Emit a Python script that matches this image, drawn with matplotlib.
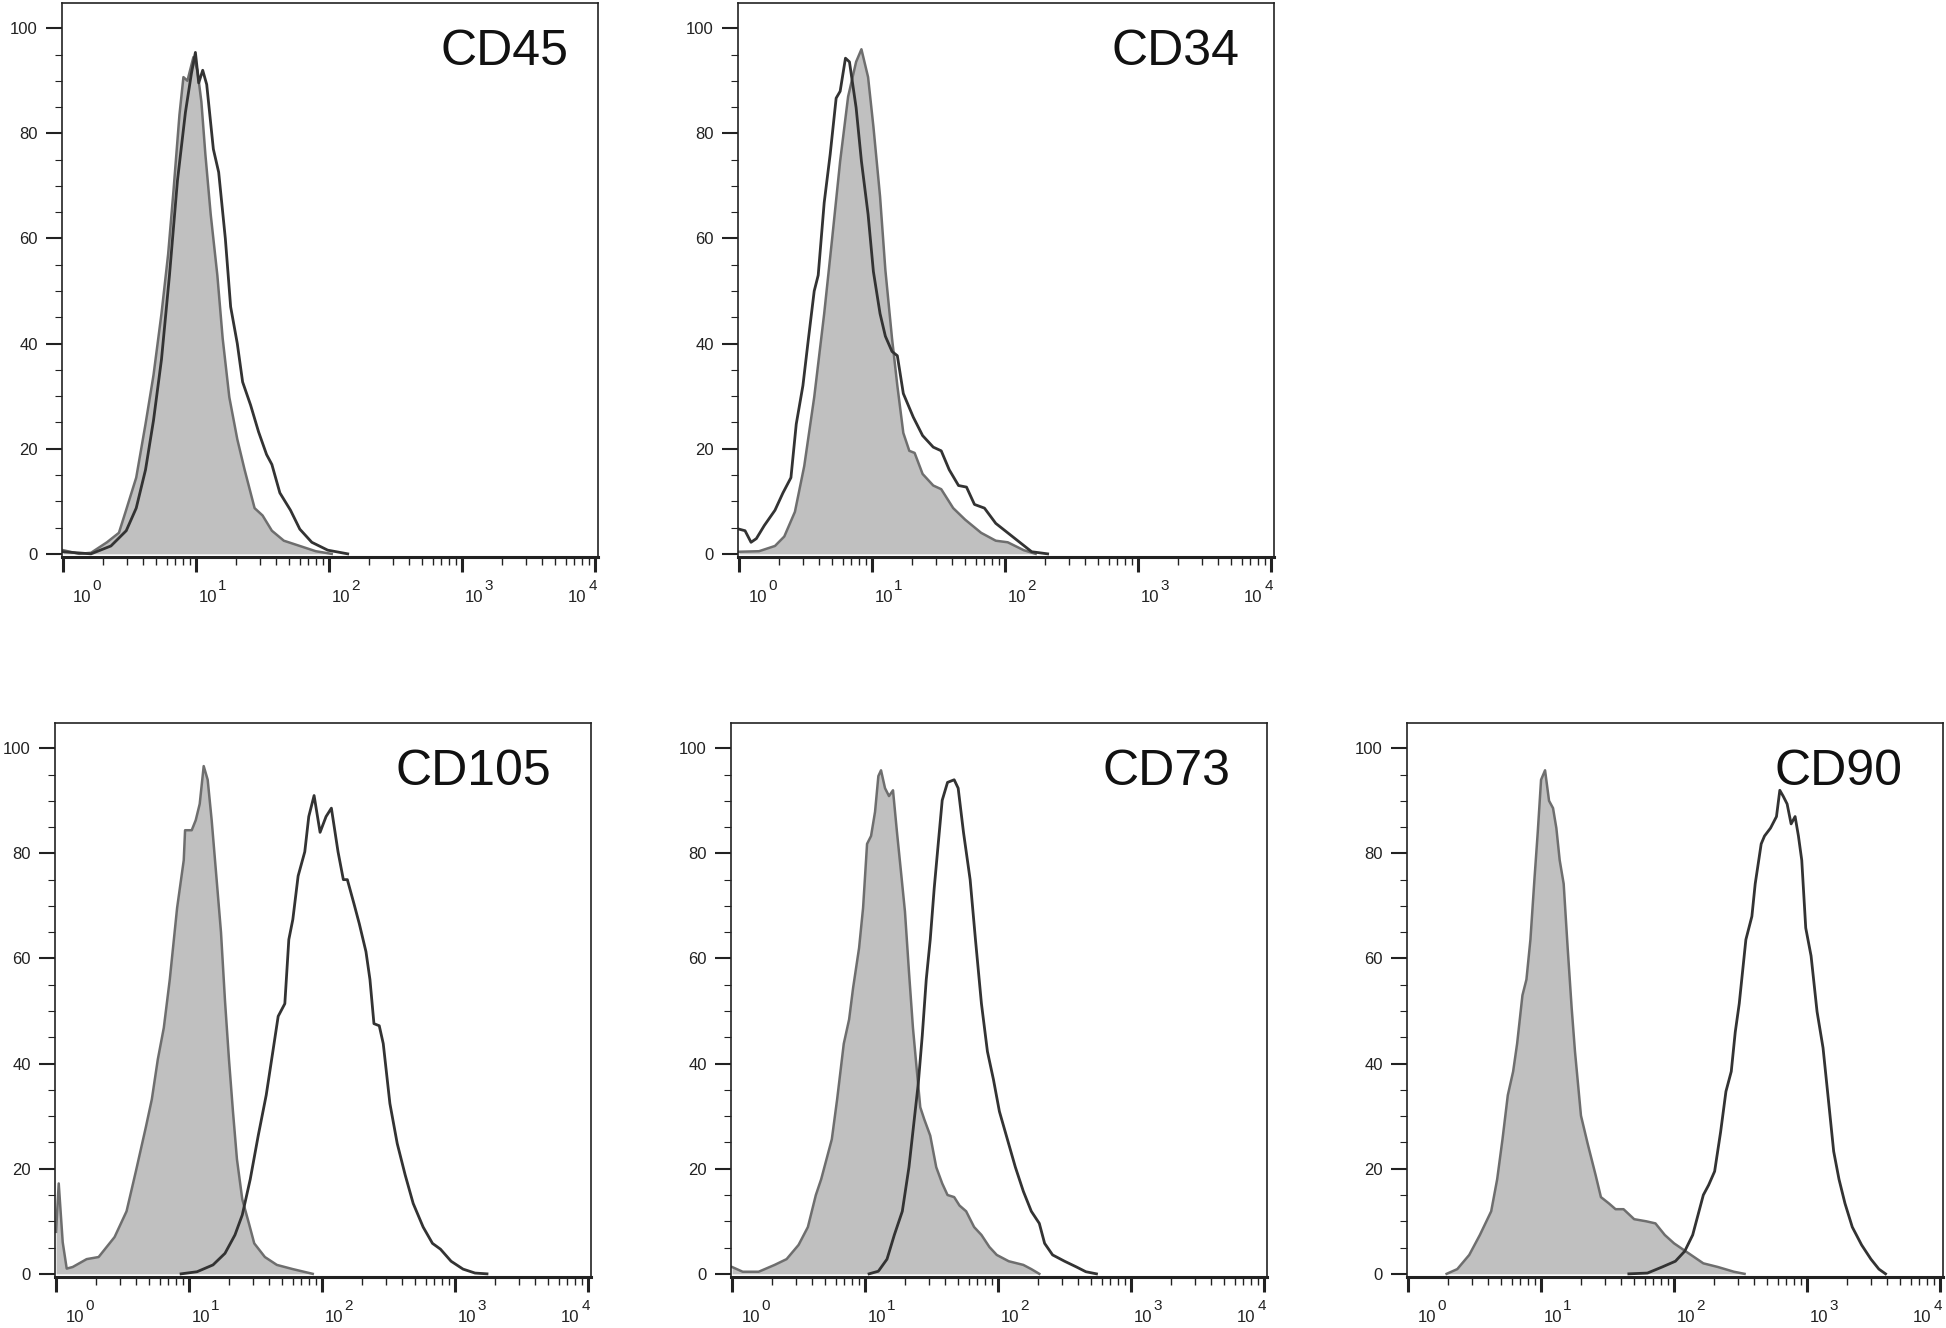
import numpy as np
import matplotlib
matplotlib.use("Agg")
import matplotlib.pyplot as plt
from matplotlib.ticker import LogLocator, MultipleLocator, NullFormatter
from matplotlib.transforms import offset_copy

plt.rcParams['font.family'] = ['Liberation Sans', 'DejaVu Sans']

# ---- data (x as log10 of fluorescence, y as % of max) ----
titles = ["CD45", "CD34", "CD105", "CD73", "CD90"]

cd45_iso_log = [0.0, 0.12, 0.21, 0.33, 0.42, 0.47, 0.55, 0.62, 0.68, 0.74, 0.79, 0.83, 0.875, 0.905, 0.935,
                0.98, 1.01, 1.04, 1.07, 1.11, 1.16, 1.20, 1.25, 1.31, 1.365, 1.44, 1.50, 1.57, 1.66, 1.78, 1.90, 2.02]
cd45_iso_y = [0.7, 0.0, 0.2, 2.2, 4.0, 8.0, 14.5, 24.7, 34.0, 45.7, 57.0, 69.0, 83.5, 90.7, 90.0,
              94.5, 92.0, 86.0, 76.0, 64.6, 53.0, 41.0, 29.8, 21.8, 16.0, 8.7, 7.3, 4.4, 2.5, 1.5, 0.5, 0.0]
cd45_log = [0.0, 0.21, 0.36, 0.475, 0.55, 0.62, 0.68, 0.74, 0.80, 0.86, 0.92, 0.965, 0.995, 1.02, 1.05, 1.08,
            1.13, 1.17, 1.22, 1.26, 1.31, 1.35, 1.41, 1.47, 1.53, 1.57, 1.63, 1.71, 1.78, 1.87, 1.99, 2.14]
cd45_y = [0.4, 0.0, 1.5, 4.4, 8.7, 16.0, 25.4, 37.0, 53.0, 71.0, 84.0, 91.4, 95.4, 89.6, 92.0, 89.3,
          77.0, 72.6, 60.0, 47.0, 40.0, 32.7, 28.3, 23.2, 18.9, 17.0, 11.6, 8.3, 4.7, 2.2, 0.7, 0.0]

cd34_iso_log = [0.0, 0.15, 0.27, 0.34, 0.42, 0.49, 0.565, 0.64, 0.70, 0.76, 0.82, 0.88, 0.92, 0.97, 1.01, 1.06,
                1.10, 1.15, 1.19, 1.235, 1.28, 1.32, 1.38, 1.46, 1.52, 1.61, 1.70, 1.82, 1.93, 2.02, 2.14, 2.23]
cd34_iso_y = [0.4, 0.5, 1.5, 3.3, 8.0, 16.7, 29.8, 45.7, 60.0, 74.7, 87.0, 93.6, 96.0, 90.7, 81.3, 68.0,
              54.0, 41.0, 32.0, 23.0, 19.6, 19.2, 15.2, 13.0, 12.3, 8.7, 6.5, 4.0, 2.5, 2.2, 0.7, 0.0]
cd34_log = [0.0, 0.045, 0.09, 0.13, 0.19, 0.27, 0.33, 0.39, 0.43, 0.48, 0.52, 0.565, 0.595, 0.64, 0.685, 0.73,
            0.76, 0.80, 0.83, 0.88, 0.92, 0.97, 1.01, 1.06, 1.10, 1.15, 1.19, 1.235, 1.31, 1.38, 1.46, 1.52,
            1.58, 1.65, 1.71, 1.77, 1.845, 1.93, 2.02, 2.11, 2.20, 2.32]
cd34_y = [4.7, 4.4, 2.2, 2.9, 5.4, 8.3, 11.6, 14.5, 24.7, 32.0, 40.6, 50.0, 53.0, 66.8, 76.0, 86.7,
          88.0, 94.3, 93.6, 84.9, 74.7, 64.6, 53.7, 45.7, 41.4, 38.5, 37.7, 30.5, 26.0, 22.5, 20.3, 19.6,
          16.0, 13.0, 12.7, 9.4, 8.7, 5.8, 4.0, 2.2, 0.4, 0.0]

cd105_iso_log = [0.0, 0.02, 0.05, 0.08, 0.125, 0.23, 0.32, 0.44, 0.53, 0.60, 0.675, 0.72, 0.765, 0.81, 0.855,
                 0.91, 0.96, 0.97, 1.02, 1.05, 1.08, 1.11, 1.14, 1.17, 1.20, 1.24, 1.27, 1.30, 1.33, 1.36,
                 1.40, 1.45, 1.49, 1.57, 1.66, 1.78, 1.93]
cd105_iso_y = [8.0, 17.2, 6.0, 1.0, 1.3, 2.8, 3.2, 7.0, 11.9, 19.5, 27.9, 33.2, 40.8, 46.8, 56.0,
               69.6, 78.7, 84.4, 84.4, 86.3, 89.4, 96.6, 94.0, 86.3, 77.2, 65.0, 52.0, 40.8, 30.9, 21.8,
               14.2, 9.6, 5.8, 3.2, 1.7, 0.9, 0.0]
cd105_log = [0.94, 1.06, 1.18, 1.27, 1.345, 1.40, 1.46, 1.52, 1.58, 1.63, 1.67, 1.72, 1.75, 1.78, 1.82, 1.87,
             1.90, 1.94, 1.985, 2.03, 2.07, 2.12, 2.16, 2.19, 2.24, 2.28, 2.33, 2.36, 2.39, 2.43, 2.46, 2.51,
             2.565, 2.625, 2.685, 2.76, 2.83, 2.89, 2.97, 3.06, 3.15, 3.24]
cd105_y = [0.0, 0.4, 1.7, 3.9, 7.4, 11.2, 18.0, 26.3, 34.0, 42.3, 49.0, 51.4, 63.6, 67.4, 75.7, 80.3,
           87.0, 91.0, 84.0, 87.0, 88.6, 80.3, 75.0, 75.0, 70.4, 66.6, 61.3, 56.0, 47.6, 47.2, 43.8, 32.4,
           24.8, 18.8, 13.4, 8.9, 5.8, 4.7, 2.4, 0.9, 0.15, 0.0]

cd73_iso_log = [0.0, 0.08, 0.2, 0.32, 0.41, 0.50, 0.57, 0.63, 0.67, 0.75, 0.79, 0.84, 0.88, 0.91, 0.955, 0.985,
                1.015, 1.045, 1.075, 1.10, 1.12, 1.15, 1.18, 1.21, 1.24, 1.27, 1.30, 1.33, 1.36, 1.39, 1.415,
                1.445, 1.49, 1.535, 1.58, 1.62, 1.67, 1.71, 1.76, 1.82, 1.875, 1.935, 1.99, 2.08, 2.19, 2.25, 2.31]
cd73_iso_y = [1.3, 0.4, 0.4, 1.7, 2.8, 5.5, 8.9, 15.0, 18.0, 25.6, 33.2, 43.8, 48.4, 54.4, 62.0, 69.6,
              81.8, 83.3, 87.9, 94.7, 95.8, 92.4, 90.9, 92.0, 84.0, 76.5, 68.9, 57.5, 46.8, 38.5, 31.7,
              29.4, 26.3, 20.3, 17.2, 15.0, 14.6, 13.0, 11.9, 8.9, 7.4, 5.1, 3.6, 2.4, 1.7, 0.9, 0.0]
cd73_log = [1.03, 1.10, 1.165, 1.22, 1.28, 1.33, 1.37, 1.40, 1.43, 1.46, 1.49, 1.52, 1.55, 1.58, 1.62, 1.67,
            1.70, 1.74, 1.79, 1.83, 1.875, 1.92, 1.965, 2.01, 2.07, 2.13, 2.19, 2.25, 2.31, 2.35, 2.41, 2.50,
            2.59, 2.66, 2.74]
cd73_y = [0.0, 0.5, 2.8, 7.4, 11.9, 20.3, 29.4, 36.2, 45.3, 56.0, 63.6, 73.4, 81.8, 90.1, 93.5, 94.0,
          92.4, 84.0, 75.0, 63.6, 51.4, 42.3, 37.0, 30.9, 25.6, 20.3, 15.7, 11.9, 9.6, 5.8, 3.6, 2.4,
          1.3, 0.4, 0.0]

cd90_iso_log = [0.29, 0.37, 0.46, 0.54, 0.625, 0.67, 0.71, 0.75, 0.79, 0.82, 0.86, 0.89, 0.92, 0.95, 0.975,
                1.00, 1.03, 1.06, 1.09, 1.115, 1.14, 1.17, 1.20, 1.23, 1.255, 1.30, 1.35, 1.41, 1.45, 1.51,
                1.56, 1.62, 1.70, 1.79, 1.86, 1.93, 2.00, 2.11, 2.22, 2.33, 2.45, 2.53]
cd90_iso_y = [0.0, 0.9, 3.6, 7.4, 11.9, 18.0, 25.6, 34.0, 38.5, 43.8, 53.0, 56.0, 63.6, 75.0, 84.0,
              94.0, 95.8, 90.0, 88.6, 84.8, 78.7, 74.2, 62.0, 50.6, 42.3, 30.1, 24.8, 18.8, 14.6, 13.4,
              12.3, 12.3, 10.4, 10.0, 9.6, 7.4, 5.8, 3.9, 2.0, 1.3, 0.4, 0.0]
cd90_log = [1.66, 1.80, 1.91, 2.01, 2.08, 2.14, 2.18, 2.22, 2.26, 2.305, 2.35, 2.39, 2.43, 2.46, 2.49, 2.515,
            2.54, 2.585, 2.61, 2.655, 2.68, 2.725, 2.77, 2.795, 2.82, 2.85, 2.88, 2.91, 2.935, 2.96, 2.99,
            3.03, 3.075, 3.12, 3.16, 3.20, 3.24, 3.285, 3.34, 3.41, 3.48, 3.54, 3.59]
cd90_y = [0.0, 0.15, 1.3, 2.4, 4.3, 7.4, 11.2, 15.0, 16.9, 19.5, 27.0, 34.7, 38.5, 46.0, 51.4, 57.5,
          63.6, 68.0, 74.2, 81.8, 83.3, 84.8, 87.0, 92.0, 90.9, 89.4, 85.6, 87.0, 83.3, 78.7, 65.8,
          60.5, 49.9, 43.0, 33.2, 23.3, 18.0, 13.4, 8.9, 5.5, 2.8, 0.9, 0.0]

iso_logs = [cd45_iso_log, cd34_iso_log, cd105_iso_log, cd73_iso_log, cd90_iso_log]
iso_ys = [cd45_iso_y, cd34_iso_y, cd105_iso_y, cd73_iso_y, cd90_iso_y]
stain_logs = [cd45_log, cd34_log, cd105_log, cd73_log, cd90_log]
stain_ys = [cd45_y, cd34_y, cd105_y, cd73_y, cd90_y]

# ---- layout (pixels of the 1946x1328 figure) ----
W, H = 1946, 1328
fig = plt.figure(figsize=(W / 100, H / 100), dpi=100)
lefts = [62, 738, 55, 731, 1407]
tops = [3, 3, 723, 723, 723]
aw, ah = 536, 554
title_x = [0.945, 0.935, 0.925, 0.932, 0.925]

for i in range(5):
    ax = fig.add_axes([lefts[i] / W, 1 - (tops[i] + ah) / H, aw / W, ah / H])
    xi = np.power(10.0, iso_logs[i])
    xs = np.power(10.0, stain_logs[i])
    ax.fill_between(xi, iso_ys[i], 0, color='#c0c0c0', lw=0)
    ax.plot(xi, iso_ys[i], color='#6e6e6e', lw=1.8, solid_joinstyle='round')
    ax.plot(xs, stain_ys[i], color='#333333', lw=2.0, solid_joinstyle='round')

    ax.set_xscale('log')
    ax.set_xlim(10 ** -0.008, 10 ** 4.022)
    ax.set_ylim(-0.6, 104.8)

    ax.xaxis.set_major_locator(LogLocator(base=10, numticks=10))
    ax.xaxis.set_minor_locator(LogLocator(base=10, subs=np.arange(2, 10), numticks=20))
    ax.xaxis.set_major_formatter(NullFormatter())
    ax.xaxis.set_minor_formatter(NullFormatter())
    ax.yaxis.set_major_locator(MultipleLocator(20))
    ax.yaxis.set_minor_locator(MultipleLocator(5))

    ax.tick_params(axis='y', which='major', direction='out', length=11.5, width=1.5,
                   labelsize=12, pad=6, colors='#222222')
    ax.tick_params(axis='y', which='minor', direction='out', length=5, width=0.8, colors='#222222')
    ax.tick_params(axis='x', which='major', direction='out', length=11, width=2.2, colors='#222222')
    ax.tick_params(axis='x', which='minor', direction='out', length=6, width=1.0, colors='#222222')

    for side in ['left', 'right', 'top']:
        ax.spines[side].set_linewidth(1.2)
        ax.spines[side].set_color('#222222')
    ax.spines['bottom'].set_linewidth(2.2)
    ax.spines['bottom'].set_color('#222222')

    # decade labels 10^n
    xt = ax.get_xaxis_transform()
    for e in range(5):
        xv = 10.0 ** e
        if e < 4:
            dx = 10 if e == 0 else 3
            t1 = offset_copy(xt, fig=fig, x=dx, y=-45, units='dots')
            t2 = offset_copy(xt, fig=fig, x=dx + 19, y=-33, units='dots')
            ax.text(xv, 0, "10", transform=t1, ha='left', va='baseline', fontsize=12, color='#222222')
            ax.text(xv, 0, str(e), transform=t2, ha='left', va='baseline', fontsize=11, color='#222222')
        else:
            t1 = offset_copy(xt, fig=fig, x=-9, y=-45, units='dots')
            t2 = offset_copy(xt, fig=fig, x=2, y=-33, units='dots')
            ax.text(xv, 0, "10", transform=t1, ha='right', va='baseline', fontsize=12, color='#222222')
            ax.text(xv, 0, str(e), transform=t2, ha='right', va='baseline', fontsize=11, color='#222222')

    ax.text(title_x[i], 1 - 62 / ah, titles[i], transform=ax.transAxes, ha='right', va='baseline',
            fontsize=36, color='#111111')

fig.savefig("out.png", dpi=100)
